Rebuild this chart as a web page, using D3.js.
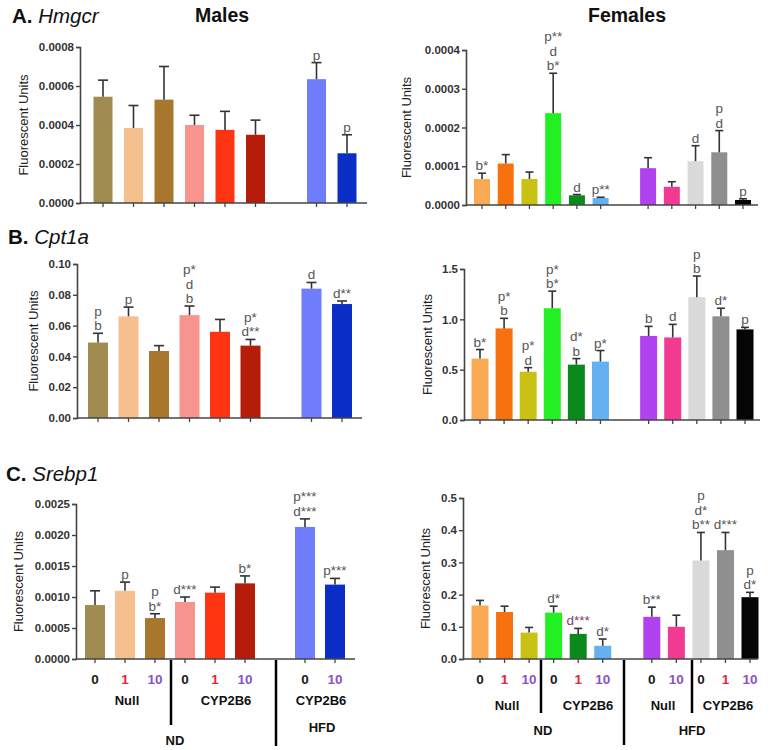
<!DOCTYPE html>
<html><head><meta charset="utf-8">
<script src="https://cdn.jsdelivr.net/npm/d3@7"></script>
<style>body{margin:0;background:#fff}svg{display:block;font-family:"Liberation Sans",Arial,sans-serif}</style>
</head><body><svg id="c" width="771" height="750"></svg>
<script>
// ---------- data ----------
const maleGroups = ["ND Null 0","ND Null 1","ND Null 10","ND CYP2B6 0","ND CYP2B6 1","ND CYP2B6 10","HFD CYP2B6 0","HFD CYP2B6 10"];
const femaleGroups = ["ND Null 0","ND Null 1","ND Null 10","ND CYP2B6 0","ND CYP2B6 1","ND CYP2B6 10","HFD Null 0","HFD Null 10","HFD CYP2B6 0","HFD CYP2B6 1","HFD CYP2B6 10"];
const maleSlots = [0,1,2,3,4,5,7,8];
const femaleSlots = [0,1,2,3,4,5,7,8,9,10,11];
const maleColors = ["#a08b50","#f6c08e","#a8762c","#f8948e","#fe3412","#b51d0a","#6f7dfd","#0b2fc6"];
const femaleColors = ["#f9aa52","#f7720f","#c9c215","#22f022","#0b8a1c","#63b1f1","#b142ef","#f23a92","#dadada","#8f8f8f","#050505"];

const hmgcrMale    = [0.000545,0.000385,0.00053,0.0004,0.000375,0.00035,0.000635,0.000255];
const hmgcrMaleErr = [0.00063,0.0005,0.0007,0.00045,0.00047,0.000425,0.00072,0.00035];
const hmgcrMaleSig = [[],[],[],[],[],[],["p"],["p"]];
const hmgcrFemale    = [0.000067,0.000107,0.000067,0.000237,0.000025,0.000018,0.000095,0.000047,0.000113,0.000136,0.000013];
const hmgcrFemaleErr = [0.000082,0.00013,0.000085,0.00034,0.000027,0.00002,0.000122,0.00006,0.000153,0.000192,0.000016];
const hmgcrFemaleSig = [["b*"],[],[],["p**","d","b*"],["d"],["p**"],[],[],["d"],["p","d"],["p"]];

const cpt1aMale    = [0.049,0.066,0.0435,0.0668,0.056,0.047,0.084,0.074];
const cpt1aMaleErr = [0.055,0.072,0.047,0.0727,0.064,0.051,0.088,0.076];
const cpt1aMaleSig = [["p","b"],["p"],[],["p*","d","b"],[],["p*","d**"],["d"],["d**"]];
const cpt1aFemale    = [0.61,0.91,0.48,1.11,0.55,0.58,0.835,0.82,1.22,1.03,0.90];
const cpt1aFemaleErr = [0.70,1.01,0.52,1.28,0.61,0.69,0.93,0.95,1.43,1.11,0.92];
const cpt1aFemaleSig = [["b*"],["p*","b"],["p*","d"],["p*","b*"],["d*","b"],["p*"],["b"],["d"],["p","b"],["d*"],["p"]];

const srebp1Male    = [0.00087,0.0011,0.00066,0.00092,0.00107,0.00122,0.00213,0.0012];
const srebp1MaleErr = [0.0011,0.00124,0.00073,0.001,0.00116,0.00134,0.00226,0.0013];
const srebp1MaleSig = [[],["p"],["p","b*"],["d***"],[],["b*"],["p***","d***"],["p***"]];
const srebp1Female    = [0.166,0.146,0.082,0.144,0.078,0.041,0.131,0.10,0.306,0.338,0.192];
const srebp1FemaleErr = [0.182,0.164,0.098,0.164,0.095,0.062,0.161,0.136,0.393,0.393,0.207];
const srebp1FemaleSig = [[],[],[],["d*"],["d***"],["d*"],["b**"],[],["p","d*","b**"],["d***"],["p","d*"]];

const maleDoses = ["0","1","10","0","1","10","0","10"];
const femaleDoses = ["0","1","10","0","1","10","0","10","0","1","10"];
const doseColors = {"0":"#1a1a1a","1":"#e3243b","10":"#8a52c6"};

// ---------- layout ----------
const svg = d3.select("#c");
const panels = [
  {vals:hmgcrMale, errs:hmgcrMaleErr, sig:hmgcrMaleSig, slots:maleSlots, colors:maleColors, n:9,
   x0:80, x1:367, c0:103, c1:347, yb:203, yt:47, max:0.0008, step:0.0002, fmt:".4f", bw:19, cap:10, lx:23},
  {vals:hmgcrFemale, errs:hmgcrFemaleErr, sig:hmgcrFemaleSig, slots:femaleSlots, colors:femaleColors, n:12,
   x0:466, x1:758, c0:482, c1:743, yb:205, yt:50, max:0.0004, step:0.0001, fmt:".4f", bw:16, cap:8, lx:406},
  {vals:cpt1aMale, errs:cpt1aMaleErr, sig:cpt1aMaleSig, slots:maleSlots, colors:maleColors, n:9,
   x0:77, x1:362, c0:98, c1:342, yb:418, yt:264, max:0.10, step:0.02, fmt:".2f", bw:20, cap:10, lx:33},
  {vals:cpt1aFemale, errs:cpt1aFemaleErr, sig:cpt1aFemaleSig, slots:femaleSlots, colors:femaleColors, n:12,
   x0:464, x1:760, c0:480, c1:745, yb:420, yt:269, max:1.5, step:0.5, fmt:".1f", bw:17, cap:8, lx:427},
  {vals:srebp1Male, errs:srebp1MaleErr, sig:srebp1MaleSig, slots:maleSlots, colors:maleColors, n:9,
   x0:76, x1:355, c0:95, c1:335, yb:659, yt:504, max:0.0025, step:0.0005, fmt:".4f", bw:20, cap:10, lx:18,
   doses:maleDoses},
  {vals:srebp1Female, errs:srebp1FemaleErr, sig:srebp1FemaleSig, slots:femaleSlots, colors:femaleColors, n:12,
   x0:463, x1:758, c0:480, c1:750, yb:659, yt:498, max:0.5, step:0.1, fmt:".1f", bw:17, cap:8, lx:425,
   doses:femaleDoses}
];

panels.forEach(p => {
  const g = svg.append("g");
  const x = d3.scaleLinear().domain([0, p.n - 1]).range([p.c0, p.c1]);
  const y = d3.scaleLinear().domain([0, p.max]).range([p.yb, p.yt]);
  const ticks = d3.range(0, p.max + p.step / 2, p.step);

  g.selectAll("rect").data(p.vals).join("rect")
    .attr("x", (d, i) => x(p.slots[i]) - p.bw / 2)
    .attr("y", d => y(d))
    .attr("width", p.bw)
    .attr("height", d => p.yb - y(d))
    .attr("fill", (d, i) => p.colors[i]);

  const eb = g.append("g").attr("stroke", "#333").attr("stroke-width", 1.6);
  p.errs.forEach((e, i) => {
    const cx = x(p.slots[i]);
    eb.append("line").attr("x1", cx).attr("x2", cx).attr("y1", y(p.vals[i])).attr("y2", y(e));
    eb.append("line").attr("x1", cx - p.cap / 2).attr("x2", cx + p.cap / 2).attr("y1", y(e)).attr("y2", y(e));
  });

  const ya = g.append("g").attr("transform", `translate(${p.x0},0)`)
    .call(d3.axisLeft(y).tickValues(ticks).tickFormat(d3.format(p.fmt)).tickSize(4).tickPadding(2));
  ya.select(".domain").attr("stroke", "#444").attr("stroke-width", 1.6);
  ya.selectAll(".tick line").attr("stroke", "#444").attr("stroke-width", 1.4);
  ya.selectAll("text").attr("font-size", 11.5).attr("font-weight", "bold").attr("fill", "#333")
    .attr("font-family", '"Liberation Sans",Arial,sans-serif');

  g.append("line").attr("x1", p.x0).attr("x2", p.x1).attr("y1", p.yb).attr("y2", p.yb)
    .attr("stroke", "#444").attr("stroke-width", 1.6);
  g.selectAll("line.xt").data(p.slots).join("line").attr("class", "xt")
    .attr("x1", d => x(d)).attr("x2", d => x(d)).attr("y1", p.yb).attr("y2", p.yb + 4)
    .attr("stroke", "#444").attr("stroke-width", 1.3);

  g.append("text").attr("transform", `translate(${p.lx},${(p.yb + p.yt) / 2}) rotate(-90)`)
    .attr("text-anchor", "middle").attr("dy", "0.35em").attr("font-size", 13).attr("fill", "#222")
    .text("Fluorescent Units");

  p.sig.forEach((arr, i) => {
    const cx = x(p.slots[i]);
    const base = y(p.errs[i]) - 3;
    arr.slice().reverse().forEach((s, k) => {
      g.append("text").attr("x", cx).attr("y", base - k * 14.5).attr("text-anchor", "middle")
        .attr("font-size", 13.5).attr("fill", s === "d***" && p.vals === srebp1Female && i === 4 ? "#7a3f6c" : "#555")
        .text(s);
    });
  });

  if (p.doses) {
    g.selectAll("text.dose").data(p.doses).join("text").attr("class", "dose")
      .attr("x", (d, i) => x(p.slots[i])).attr("y", p.yb + 25).attr("text-anchor", "middle")
      .attr("font-size", 13.5).attr("font-weight", "bold").attr("fill", d => doseColors[d]).text(d => d);
  }
});

function title(xp, yp, letter, gene) {
  const t = svg.append("text").attr("x", xp).attr("y", yp).attr("font-size", 20.5).attr("fill", "#111");
  t.append("tspan").attr("font-weight", "bold").text(letter + " ");
  t.append("tspan").attr("font-style", "italic").text(gene);
}
title(12, 23, "A.", "Hmgcr");
title(8, 244, "B.", "Cpt1a");
title(6, 481, "C.", "Srebp1");
svg.append("text").attr("x", 222).attr("y", 22).attr("text-anchor", "middle").attr("font-size", 19.5)
  .attr("font-weight", "bold").attr("fill", "#111").text("Males");
svg.append("text").attr("x", 627).attr("y", 22).attr("text-anchor", "middle").attr("font-size", 19.5)
  .attr("font-weight", "bold").attr("fill", "#111").text("Females");

const groupLabels = [
  ["Null", 127, 705], ["CYP2B6", 226, 705], ["CYP2B6", 321, 705], ["ND", 175, 745], ["HFD", 322, 732],
  ["Null", 507, 710], ["CYP2B6", 588, 710], ["Null", 663, 710], ["CYP2B6", 728, 710], ["ND", 543, 735], ["HFD", 692, 735]
];
svg.selectAll("text.grp").data(groupLabels).join("text").attr("class", "grp")
  .attr("x", d => d[1]).attr("y", d => d[2]).attr("text-anchor", "middle")
  .attr("font-size", 13).attr("font-weight", "bold").attr("fill", "#111").text(d => d[0]);

const sepLines = [[171, 660, 725], [276, 660, 746], [541, 660, 713], [624, 660, 745], [692, 660, 713]];
svg.selectAll("line.sep").data(sepLines).join("line").attr("class", "sep")
  .attr("x1", d => d[0]).attr("x2", d => d[0]).attr("y1", d => d[1]).attr("y2", d => d[2])
  .attr("stroke", "#000").attr("stroke-width", 2.5);
</script></body></html>
